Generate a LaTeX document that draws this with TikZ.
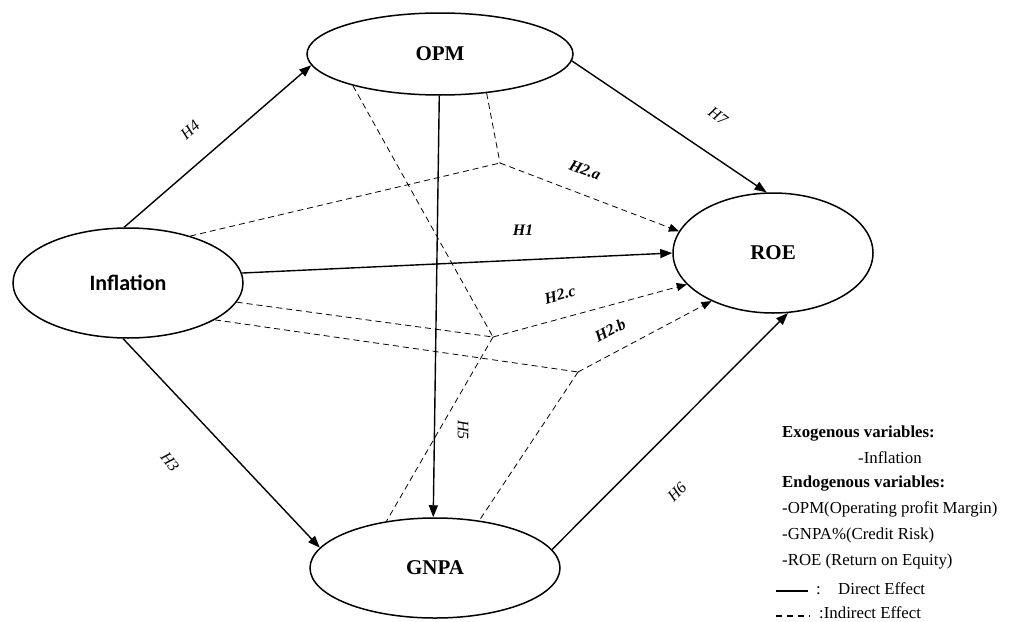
\documentclass[tikz,border=0pt]{standalone}
\usepackage{fontspec}
\setmainfont{Liberation Serif}
\newfontfamily\carl{Carlito}
\usetikzlibrary{shapes.geometric,arrows.meta}
\tikzset{
  var/.style={ellipse,draw,line width=1.5pt,inner sep=0pt},
  direct/.style={line width=1.4pt,-{Triangle[length=12pt,width=9pt]}},
  indirect/.style={line width=0.8pt,dash pattern=on 6pt off 4pt},
  indarrow/.style={indirect,-{Triangle[length=10pt,width=8pt]}},
  hlab/.style={inner sep=1pt,font=\fontsize{16}{18}\selectfont\itshape},
  hblab/.style={inner sep=1pt,font=\fontsize{16}{18}\selectfont\bfseries\itshape},
  leg/.style={anchor=base west,inner sep=0pt,font=\fontsize{16.8}{18}\selectfont},
  legb/.style={leg,font=\fontsize{16.8}{18}\selectfont\bfseries}
}
\begin{document}
\begin{tikzpicture}[x=1pt,y=-1pt]
\useasboundingbox (0,0) rectangle (1024,621);
% variables
\node[var,minimum width=266pt,minimum height=82pt,font=\fontsize{21}{24}\selectfont\bfseries] (OPM) at (440,54) {OPM};
\node[var,minimum width=230pt,minimum height=110pt,font=\carl\fontsize{22}{24}\selectfont\bfseries] (INF) at (128,283) {Inflation};
\node[var,minimum width=200pt,minimum height=120pt,font=\fontsize{21}{24}\selectfont\bfseries] (ROE) at (773,253) {ROE};
\node[var,minimum width=250pt,minimum height=100pt,font=\fontsize{21}{24}\selectfont\bfseries] (GNPA) at (435,568) {GNPA};
% junction points of indirect paths
\coordinate (P1) at (500,163);
\coordinate (P2) at (578,372);
\coordinate (P3) at (493,337);
% indirect effects
\draw[indirect] (OPM.-40) -- (P1);
\draw[indirect] (INF.37) -- (P1);
\draw[indarrow] (P1) -- (ROE.167);
\draw[indirect] (OPM.200) -- (P3);
\draw[indirect] (INF.-10) -- (P3);
\draw[indarrow] (P3) -- (ROE.200);
\draw[indirect] (P3) -- (GNPA.136);
\draw[indirect] (INF.-23) -- (P2);
\draw[indarrow] (P2) -- (ROE.218);
\draw[indirect] (P2) -- (GNPA.47);
% direct effects
\draw[direct] (INF.94) -- (OPM.185);
\draw[direct] (OPM.-3) -- (ROE.96);
\draw[direct] (INF.5) -- (ROE.180);
\draw[direct] (INF.265) -- (GNPA.170);
\draw[direct] (OPM.-91) -- (GNPA.92);
\draw[direct] (GNPA.9) -- (ROE.284);
% labels
\node[hlab,rotate=42] (lH4) at (190,130) {H4};
\node[hlab,rotate=-36] (lH7) at (718,116) {H7};
\node[hblab] (lH1) at (523,230) {H1};
\node[hblab,rotate=-21] (lH2a) at (585,170) {H2.a};
\node[hblab,rotate=15] (lH2c) at (560,295) {H2.c};
\node[hblab,rotate=27] (lH2b) at (610,330) {H2.b};
\node[hlab,rotate=-52] (lH3) at (170,462) {H3};
\node[hlab,rotate=-90] (lH5) at (463,430) {H5};
\node[hlab,rotate=45] (lH6) at (677,492) {H6};
% legend
\node[legb] (g1) at (782,437) {Exogenous variables:};
\node[leg] (g2) at (858,463) {-Inflation};
\node[legb] (g3) at (782,487) {Endogenous variables:};
\node[leg] (g4) at (782,513) {-OPM(Operating profit Margin)};
\node[leg] (g5) at (782,539) {-GNPA\%(Credit Risk)};
\node[leg] (g6) at (782,565) {-ROE (Return on Equity)};
\coordinate (d1) at (776,591);
\coordinate (d2) at (808,591);
\draw[line width=1.6pt] (d1) -- (d2);
\node[leg] (g7) at (816,594) {:};
\node[leg] (g8) at (838,594) {Direct Effect};
\coordinate (e1) at (776,616);
\coordinate (e2) at (810,616);
\draw[line width=1.6pt,dash pattern=on 6pt off 5pt] (e1) -- (e2);
\node[leg] (g9) at (819,618) {:Indirect Effect};
\end{tikzpicture}
\end{document}
